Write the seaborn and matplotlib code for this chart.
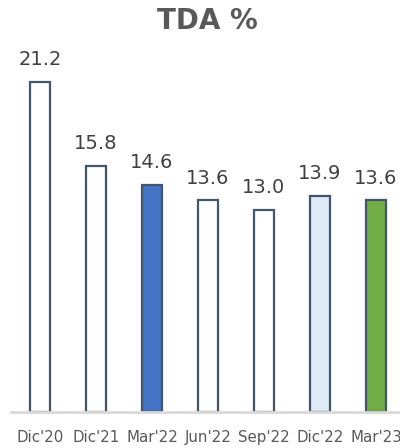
import matplotlib
matplotlib.use("Agg")
import matplotlib.pyplot as plt
import seaborn as sns
import pandas as pd

periods = ["Dic'20", "Dic'21", "Mar'22", "Jun'22", "Sep'22", "Dic'22", "Mar'23"]
tda = [21.2, 15.8, 14.6, 13.6, 13.0, 13.9, 13.6]
fills = ["#FFFFFF", "#FFFFFF", "#4472C4", "#FFFFFF", "#FFFFFF", "#DEEBF7", "#70AD47"]

sns.set_theme(style="white")
plt.rcParams['font.family'] = ['DejaVu Sans']

df = pd.DataFrame({"period": periods, "tda": tda})

fig = plt.figure(figsize=(4.0, 4.48), dpi=100)
ax = fig.add_axes([11 / 400, 36 / 448, 389 / 400, 367 / 448])

sns.barplot(data=df, x="period", y="tda", hue="period", palette=dict(zip(periods, fills)),
            order=periods, width=0.36, legend=False, ax=ax, saturation=1,
            edgecolor="#44546A", linewidth=1.6)

for container in ax.containers:
    ax.bar_label(container, fmt="%.1f", padding=9, fontsize=14, color="#404040")

ax.set_xlim(-0.52, 6.43)
ax.set_ylim(0, 23.57)
ax.set_yticks([])
ax.set_xlabel("")
ax.set_ylabel("")
for s in ["top", "left", "right"]:
    ax.spines[s].set_visible(False)
ax.spines["bottom"].set_color("#D9D9D9")
ax.spines["bottom"].set_linewidth(2)
ax.tick_params(axis="x", length=0, pad=13, labelsize=10.8, labelcolor="#595959")

fig.text(207 / 400, 1 - 21 / 448, "TDA %", ha="center", va="center",
         fontsize=20, fontweight="bold", color="#595959")

fig.savefig("out.png", dpi=100)
